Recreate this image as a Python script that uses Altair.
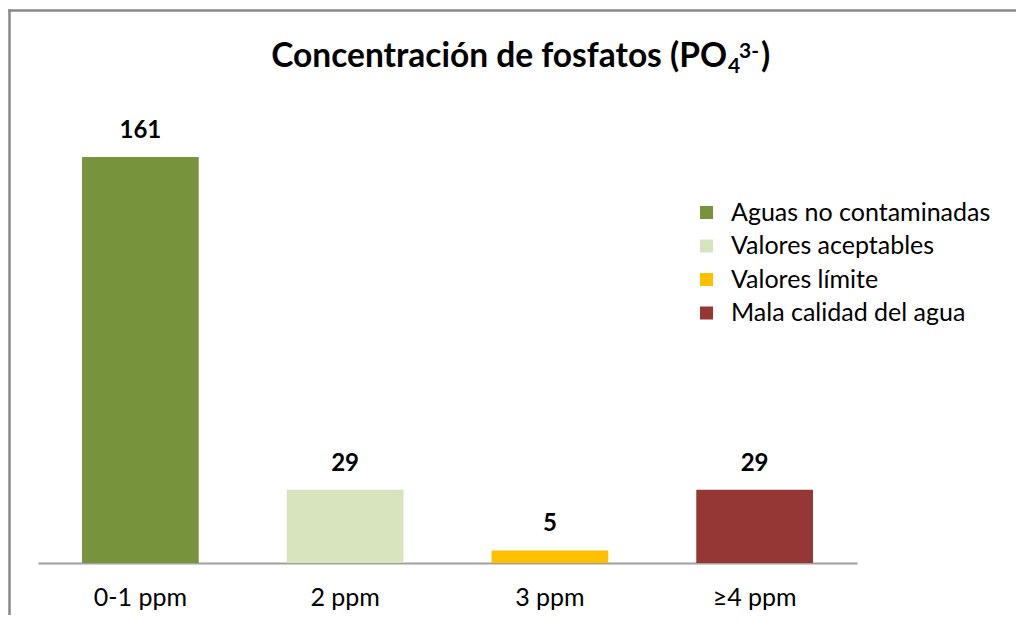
import altair as alt
import pandas as pd

categories = ["0-1 ppm", "2 ppm", "3 ppm", "≥4 ppm"]
values = [161, 29, 5, 29]
quality = ["Aguas no contaminadas", "Valores aceptables", "Valores límite", "Mala calidad del agua"]
colors = ["#77933C", "#D7E4BD", "#FFC000", "#953735"]

title_main = "Concentración de fosfatos (PO"
title_sub = "4"
title_sup = "3-"
title_end = ")"

FONT = "Lato"

df = pd.DataFrame({"cat": categories, "val": values, "q": quality})

x = alt.X(
    "cat:N", sort=categories, title=None,
    scale=alt.Scale(paddingInner=0.43, paddingOuter=0.215),
    axis=alt.Axis(labelAngle=0, ticks=False, domainColor="#A0A0A0", domainWidth=2,
                  labelFontSize=25, labelFont=FONT, labelColor="#000000",
                  labelPadding=22, grid=False),
)
y = alt.Y("val:Q", scale=alt.Scale(domain=[0, 180], nice=False), axis=None)

base = alt.Chart(df)
bars = base.mark_bar().encode(
    x=x, y=y,
    color=alt.Color(
        "q:N",
        scale=alt.Scale(domain=quality, range=colors),
        legend=alt.Legend(title=None, orient="none", legendX=656, legendY=91,
                          symbolType="square", symbolSize=169, symbolStrokeWidth=0,
                          labelFontSize=25, labelFont=FONT, labelColor="#000000",
                          labelOffset=12, rowPadding=7.5, padding=0, labelLimit=400),
    ),
)
labels = base.mark_text(baseline="alphabetic", dy=-19, font=FONT, fontSize=24,
                        fontWeight="bold", color="#000000").encode(
    x=alt.X("cat:N", sort=categories), y=y, text="val:Q")


def txt(s, xp, yp, size, align):
    return alt.Chart(alt.Data(values=[{"t": s}])).mark_text(
        font=FONT, fontSize=size, fontWeight="bold", color="#000000",
        align=align, baseline="alphabetic").encode(
        x=alt.value(xp), y=alt.value(yp), text="t:N")


frame_data = alt.Data(values=[{"a": 1}])
border_left = alt.Chart(frame_data).mark_rule(color="#898989", strokeWidth=2.5).encode(
    x=alt.value(-28.5), y=alt.value(-99.75), y2=alt.value(900))
border_top = alt.Chart(frame_data).mark_rule(color="#898989", strokeWidth=2.5).encode(
    x=alt.value(-29.75), x2=alt.value(1300), y=alt.value(-98.5))

chart = alt.layer(
    border_left, border_top, bars, labels,
    txt(title_main, 689, -42, 33.5, "right"),
    txt(title_sub, 690, -36, 21, "left"),
    txt(title_sup, 701, -51, 21, "left"),
    txt(title_end, 723, -42, 33.5, "left"),
).properties(
    width=819, height=454,
    padding={"left": 30, "top": 101, "right": 159, "bottom": 52},
    autosize=alt.AutoSizeParams(type="none"),
).configure_view(strokeWidth=0)

chart.save("out.html", embed_options={"renderer": "svg", "actions": False})
